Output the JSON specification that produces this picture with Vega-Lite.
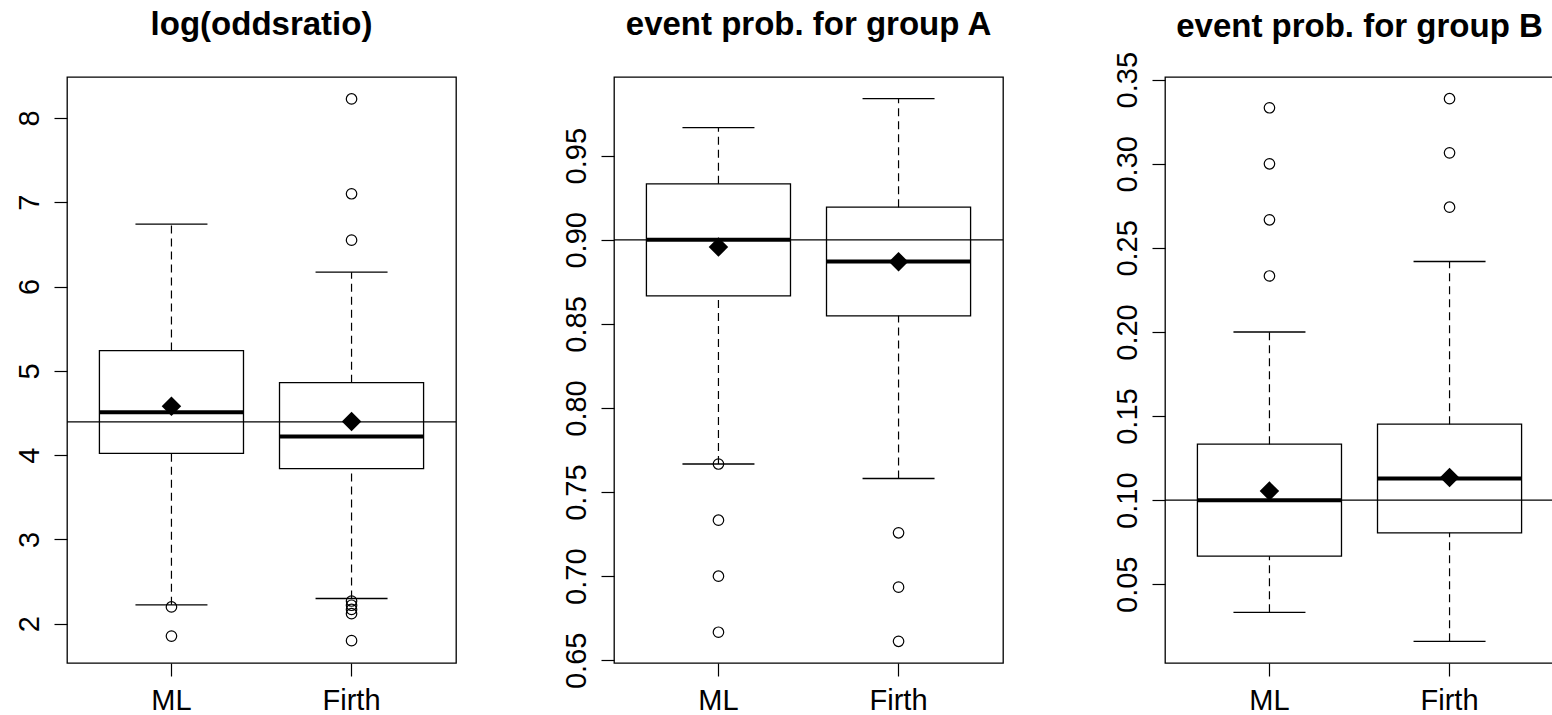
{
  "$schema": "https://vega.github.io/schema/vega-lite/v6.json",
  "background": "white",
  "padding": {"left": 11, "top": 8, "right": 0, "bottom": 0},
  "spacing": 100,
  "datasets": {
    "stats": [
      {"panel": "or", "method": "ML", "wlo": 2.225, "q1": 4.02, "med": 4.51, "q3": 5.24, "whi": 6.74, "mean": 4.58},
      {"panel": "or", "method": "Firth", "wlo": 2.30, "q1": 3.84, "med": 4.22, "q3": 4.86, "whi": 6.17, "mean": 4.40},
      {"panel": "pa", "method": "ML", "wlo": 0.7667, "q1": 0.8667, "med": 0.9, "q3": 0.9333, "whi": 0.9667, "mean": 0.8957},
      {"panel": "pa", "method": "Firth", "wlo": 0.7581, "q1": 0.8548, "med": 0.8871, "q3": 0.9194, "whi": 0.9839, "mean": 0.887},
      {"panel": "pb", "method": "ML", "wlo": 0.0333, "q1": 0.0667, "med": 0.1, "q3": 0.1333, "whi": 0.2, "mean": 0.1054},
      {"panel": "pb", "method": "Firth", "wlo": 0.0161, "q1": 0.0806, "med": 0.1129, "q3": 0.1452, "whi": 0.2419, "mean": 0.1135}
    ],
    "outliers": [
      {"panel": "or", "method": "ML", "value": 2.20},
      {"panel": "or", "method": "ML", "value": 1.854},
      {"panel": "or", "method": "Firth", "value": 8.225},
      {"panel": "or", "method": "Firth", "value": 7.10},
      {"panel": "or", "method": "Firth", "value": 6.55},
      {"panel": "or", "method": "Firth", "value": 2.27},
      {"panel": "or", "method": "Firth", "value": 2.22},
      {"panel": "or", "method": "Firth", "value": 2.17},
      {"panel": "or", "method": "Firth", "value": 2.12},
      {"panel": "or", "method": "Firth", "value": 1.80},
      {"panel": "pa", "method": "ML", "value": 0.7667},
      {"panel": "pa", "method": "ML", "value": 0.7333},
      {"panel": "pa", "method": "ML", "value": 0.7},
      {"panel": "pa", "method": "ML", "value": 0.6667},
      {"panel": "pa", "method": "Firth", "value": 0.7258},
      {"panel": "pa", "method": "Firth", "value": 0.6935},
      {"panel": "pa", "method": "Firth", "value": 0.6613},
      {"panel": "pb", "method": "ML", "value": 0.2333},
      {"panel": "pb", "method": "ML", "value": 0.2667},
      {"panel": "pb", "method": "ML", "value": 0.3},
      {"panel": "pb", "method": "ML", "value": 0.3333},
      {"panel": "pb", "method": "Firth", "value": 0.2742},
      {"panel": "pb", "method": "Firth", "value": 0.3065},
      {"panel": "pb", "method": "Firth", "value": 0.3387}
    ],
    "ref": [
      {"panel": "or", "value": 4.394},
      {"panel": "pa", "value": 0.9},
      {"panel": "pb", "value": 0.1}
    ]
  },
  "config": {
    "font": "Liberation Sans",
    "view": {"stroke": "black", "strokeWidth": 1.3},
    "title": {"fontSize": 33, "fontWeight": "bold", "color": "black", "font": "Liberation Sans", "baseline": "alphabetic", "anchor": "middle", "frame": "group"},
    "axisX": {"title": null, "labelFontSize": 29, "labelColor": "black", "labelAngle": 0, "tickSize": 13, "tickColor": "black", "tickWidth": 1.2, "labelPadding": 10, "domain": false, "grid": false},
    "axisY": {"title": null, "labelFontSize": 29, "labelColor": "black", "labelAngle": -90, "labelAlign": "center", "labelBaseline": "alphabetic", "labelPadding": 16, "tickSize": 13, "tickColor": "black", "tickWidth": 1.2, "domain": false, "grid": false, "labelOverlap": false, "minExtent": 55, "maxExtent": 55}
  },
  "hconcat": [
    {
      "width": 389, "height": 586,
      "title": {"text": "log(oddsratio)", "offset": 35},
      "layer": [
        {"data": {"name": "stats"}, "transform": [{"filter": "datum.panel == 'or'"}], "mark": {"type": "rule", "strokeDash": [8, 5], "color": "black", "strokeWidth": 1.2},
         "encoding": {"x": {"field": "method", "type": "nominal", "sort": ["ML", "Firth"], "scale": {"domain": ["ML", "Firth"], "paddingInner": 0.2, "paddingOuter": 0.18}, "axis": {}}, "y": {"field": "q3", "type": "quantitative", "scale": {"domain": [1.535, 8.485], "nice": false, "zero": false}, "axis": {"values": [2, 3, 4, 5, 6, 7, 8], "format": "d"}}, "y2": {"field": "whi"}}},
        {"data": {"name": "stats"}, "transform": [{"filter": "datum.panel == 'or'"}], "mark": {"type": "rule", "strokeDash": [8, 5], "color": "black", "strokeWidth": 1.2},
         "encoding": {"x": {"field": "method", "type": "nominal"}, "y": {"field": "wlo", "type": "quantitative"}, "y2": {"field": "q1"}}},
        {"data": {"name": "stats"}, "transform": [{"filter": "datum.panel == 'or'"}, {"fold": ["wlo", "whi"], "as": ["k", "cap"]}], "mark": {"type": "tick", "size": 72, "thickness": 1.3, "color": "black", "opacity": 1},
         "encoding": {"x": {"field": "method", "type": "nominal"}, "y": {"field": "cap", "type": "quantitative"}}},
        {"data": {"name": "stats"}, "transform": [{"filter": "datum.panel == 'or'"}], "mark": {"type": "bar", "fill": "transparent", "stroke": "black", "strokeWidth": 1.3},
         "encoding": {"x": {"field": "method", "type": "nominal"}, "y": {"field": "q1", "type": "quantitative"}, "y2": {"field": "q3"}}},
        {"data": {"name": "stats"}, "transform": [{"filter": "datum.panel == 'or'"}], "mark": {"type": "tick", "size": 144, "thickness": 4, "color": "black", "opacity": 1},
         "encoding": {"x": {"field": "method", "type": "nominal"}, "y": {"field": "med", "type": "quantitative"}}},
        {"data": {"name": "ref"}, "transform": [{"filter": "datum.panel == 'or'"}], "mark": {"type": "rule", "color": "black", "strokeWidth": 1.2},
         "encoding": {"y": {"field": "value", "type": "quantitative"}}},
        {"data": {"name": "outliers"}, "transform": [{"filter": "datum.panel == 'or'"}], "mark": {"type": "point", "shape": "circle", "filled": false, "size": 110, "stroke": "black", "strokeWidth": 1.2, "opacity": 1},
         "encoding": {"x": {"field": "method", "type": "nominal"}, "y": {"field": "value", "type": "quantitative"}}},
        {"data": {"name": "stats"}, "transform": [{"filter": "datum.panel == 'or'"}], "mark": {"type": "point", "shape": "diamond", "filled": true, "size": 380, "color": "black", "opacity": 1},
         "encoding": {"x": {"field": "method", "type": "nominal"}, "y": {"field": "mean", "type": "quantitative"}}}
      ]
    },
    {
      "width": 389, "height": 586,
      "title": {"text": "event prob. for group A", "offset": 35},
      "layer": [
        {"data": {"name": "stats"}, "transform": [{"filter": "datum.panel == 'pa'"}], "mark": {"type": "rule", "strokeDash": [8, 5], "color": "black", "strokeWidth": 1.2},
         "encoding": {"x": {"field": "method", "type": "nominal", "sort": ["ML", "Firth"], "scale": {"domain": ["ML", "Firth"], "paddingInner": 0.2, "paddingOuter": 0.18}, "axis": {}}, "y": {"field": "q3", "type": "quantitative", "scale": {"domain": [0.6484, 0.9968], "nice": false, "zero": false}, "axis": {"values": [0.65, 0.7, 0.75, 0.8, 0.85, 0.9, 0.95], "format": ".2f"}}, "y2": {"field": "whi"}}},
        {"data": {"name": "stats"}, "transform": [{"filter": "datum.panel == 'pa'"}], "mark": {"type": "rule", "strokeDash": [8, 5], "color": "black", "strokeWidth": 1.2},
         "encoding": {"x": {"field": "method", "type": "nominal"}, "y": {"field": "wlo", "type": "quantitative"}, "y2": {"field": "q1"}}},
        {"data": {"name": "stats"}, "transform": [{"filter": "datum.panel == 'pa'"}, {"fold": ["wlo", "whi"], "as": ["k", "cap"]}], "mark": {"type": "tick", "size": 72, "thickness": 1.3, "color": "black", "opacity": 1},
         "encoding": {"x": {"field": "method", "type": "nominal"}, "y": {"field": "cap", "type": "quantitative"}}},
        {"data": {"name": "stats"}, "transform": [{"filter": "datum.panel == 'pa'"}], "mark": {"type": "bar", "fill": "transparent", "stroke": "black", "strokeWidth": 1.3},
         "encoding": {"x": {"field": "method", "type": "nominal"}, "y": {"field": "q1", "type": "quantitative"}, "y2": {"field": "q3"}}},
        {"data": {"name": "stats"}, "transform": [{"filter": "datum.panel == 'pa'"}], "mark": {"type": "tick", "size": 144, "thickness": 4, "color": "black", "opacity": 1},
         "encoding": {"x": {"field": "method", "type": "nominal"}, "y": {"field": "med", "type": "quantitative"}}},
        {"data": {"name": "ref"}, "transform": [{"filter": "datum.panel == 'pa'"}], "mark": {"type": "rule", "color": "black", "strokeWidth": 1.2},
         "encoding": {"y": {"field": "value", "type": "quantitative"}}},
        {"data": {"name": "outliers"}, "transform": [{"filter": "datum.panel == 'pa'"}], "mark": {"type": "point", "shape": "circle", "filled": false, "size": 110, "stroke": "black", "strokeWidth": 1.2, "opacity": 1},
         "encoding": {"x": {"field": "method", "type": "nominal"}, "y": {"field": "value", "type": "quantitative"}}},
        {"data": {"name": "stats"}, "transform": [{"filter": "datum.panel == 'pa'"}], "mark": {"type": "point", "shape": "diamond", "filled": true, "size": 380, "color": "black", "opacity": 1},
         "encoding": {"x": {"field": "method", "type": "nominal"}, "y": {"field": "mean", "type": "quantitative"}}}
      ]
    },
    {
      "width": 389, "height": 586,
      "title": {"text": "event prob. for group B", "offset": 7},
      "layer": [
        {"data": {"name": "stats"}, "transform": [{"filter": "datum.panel == 'pb'"}], "mark": {"type": "rule", "strokeDash": [8, 5], "color": "black", "strokeWidth": 1.2},
         "encoding": {"x": {"field": "method", "type": "nominal", "sort": ["ML", "Firth"], "scale": {"domain": ["ML", "Firth"], "paddingInner": 0.2, "paddingOuter": 0.18}, "axis": {}}, "y": {"field": "q3", "type": "quantitative", "scale": {"domain": [0.0032, 0.3516], "nice": false, "zero": false}, "axis": {"values": [0.05, 0.1, 0.15, 0.2, 0.25, 0.3, 0.35], "format": ".2f", "minExtent": 59, "maxExtent": 59}}, "y2": {"field": "whi"}}},
        {"data": {"name": "stats"}, "transform": [{"filter": "datum.panel == 'pb'"}], "mark": {"type": "rule", "strokeDash": [8, 5], "color": "black", "strokeWidth": 1.2},
         "encoding": {"x": {"field": "method", "type": "nominal"}, "y": {"field": "wlo", "type": "quantitative"}, "y2": {"field": "q1"}}},
        {"data": {"name": "stats"}, "transform": [{"filter": "datum.panel == 'pb'"}, {"fold": ["wlo", "whi"], "as": ["k", "cap"]}], "mark": {"type": "tick", "size": 72, "thickness": 1.3, "color": "black", "opacity": 1},
         "encoding": {"x": {"field": "method", "type": "nominal"}, "y": {"field": "cap", "type": "quantitative"}}},
        {"data": {"name": "stats"}, "transform": [{"filter": "datum.panel == 'pb'"}], "mark": {"type": "bar", "fill": "transparent", "stroke": "black", "strokeWidth": 1.3},
         "encoding": {"x": {"field": "method", "type": "nominal"}, "y": {"field": "q1", "type": "quantitative"}, "y2": {"field": "q3"}}},
        {"data": {"name": "stats"}, "transform": [{"filter": "datum.panel == 'pb'"}], "mark": {"type": "tick", "size": 144, "thickness": 4, "color": "black", "opacity": 1},
         "encoding": {"x": {"field": "method", "type": "nominal"}, "y": {"field": "med", "type": "quantitative"}}},
        {"data": {"name": "ref"}, "transform": [{"filter": "datum.panel == 'pb'"}], "mark": {"type": "rule", "color": "black", "strokeWidth": 1.2},
         "encoding": {"y": {"field": "value", "type": "quantitative"}}},
        {"data": {"name": "outliers"}, "transform": [{"filter": "datum.panel == 'pb'"}], "mark": {"type": "point", "shape": "circle", "filled": false, "size": 110, "stroke": "black", "strokeWidth": 1.2, "opacity": 1},
         "encoding": {"x": {"field": "method", "type": "nominal"}, "y": {"field": "value", "type": "quantitative"}}},
        {"data": {"name": "stats"}, "transform": [{"filter": "datum.panel == 'pb'"}], "mark": {"type": "point", "shape": "diamond", "filled": true, "size": 380, "color": "black", "opacity": 1},
         "encoding": {"x": {"field": "method", "type": "nominal"}, "y": {"field": "mean", "type": "quantitative"}}}
      ]
    }
  ]
}
